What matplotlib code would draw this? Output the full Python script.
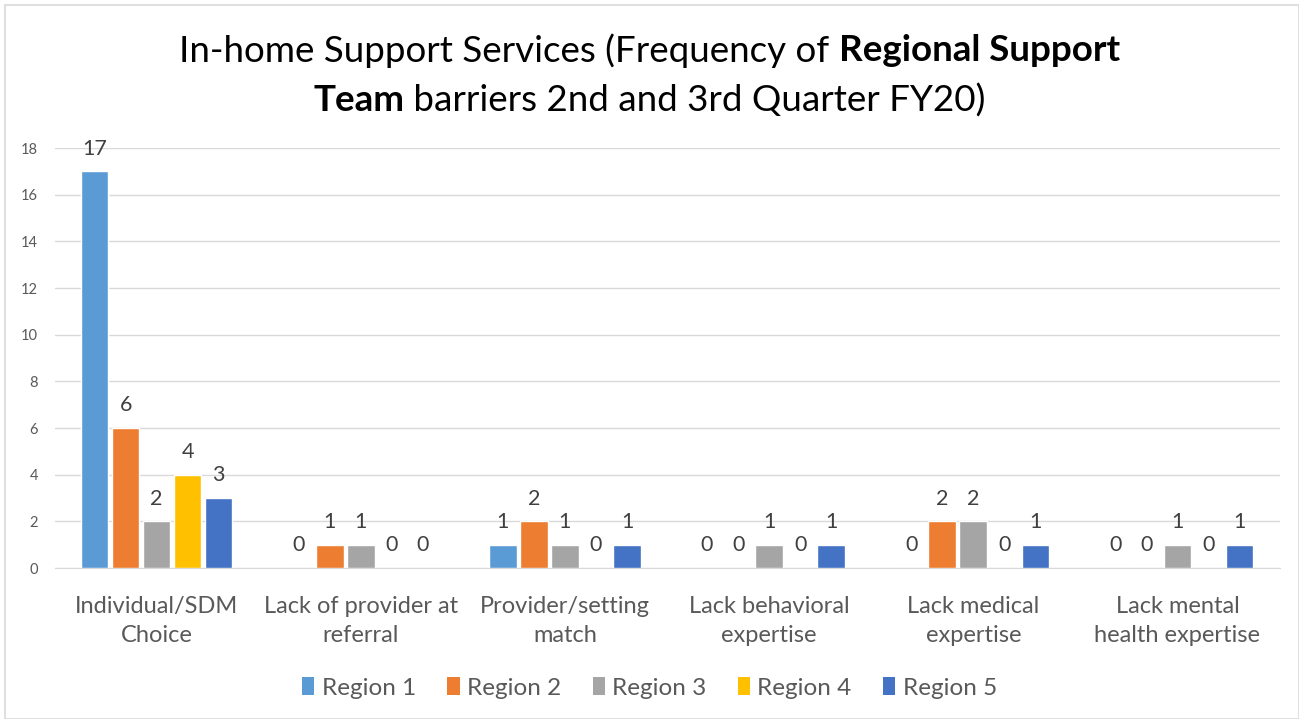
import matplotlib
matplotlib.use("Agg")
import matplotlib.pyplot as plt
import numpy as np
from matplotlib.patches import Rectangle, Patch

categories = ["Individual/SDM\nChoice", "Lack of provider at\nreferral", "Provider/setting\nmatch",
              "Lack behavioral\nexpertise", "Lack medical\nexpertise", "Lack mental\nhealth expertise"]
series_names = ["Region 1", "Region 2", "Region 3", "Region 4", "Region 5"]
region1 = [17, 0, 1, 0, 0, 0]
region2 = [6, 1, 2, 0, 2, 0]
region3 = [2, 1, 1, 1, 2, 1]
region4 = [4, 0, 0, 0, 0, 0]
region5 = [3, 0, 1, 1, 1, 1]
colors = ["#5B9BD5", "#ED7D31", "#A5A5A5", "#FFC000", "#4472C4"]
y_ticks = [0, 2, 4, 6, 8, 10, 12, 14, 16, 18]

FONT = "Lato"
plt.rcParams["font.family"] = [FONT, "DejaVu Sans"]

fig = plt.figure(figsize=(12.99, 7.19), dpi=100)
fig.patches.append(Rectangle((0.004, 0.0), 0.996, 0.993, transform=fig.transFigure,
                             fill=False, edgecolor="#D9D9D9", linewidth=1.2))
ax = fig.add_axes([0.042, 0.21, 0.943, 0.584])

data = [region1, region2, region3, region4, region5]
x = np.arange(len(categories))
pitch = 0.152
width = 0.135
for i, (vals, c, name) in enumerate(zip(data, colors, series_names)):
    pos = x + (i - 2) * pitch
    ax.bar(pos, vals, width, color=c, edgecolor="white", linewidth=1.0, label=name, zorder=3)
    for p, v in zip(pos, vals):
        ax.text(p, v + 0.55, str(v), ha="center", va="bottom", fontsize=15.5,
                color="#404040", zorder=4, clip_on=False)

ax.set_xlim(-0.5, len(categories) - 0.5)
ax.set_ylim(0, 18)
ax.set_yticks(y_ticks)
ax.set_yticklabels([str(t) for t in y_ticks], fontsize=10.5, color="#595959")
ax.set_xticks(x)
ax.set_xticklabels(categories, fontsize=17, color="#595959", linespacing=1.5)
ax.tick_params(axis="both", length=0)
ax.tick_params(axis="x", pad=20)
ax.tick_params(axis="y", pad=12)
ax.grid(axis="y", color="#D9D9D9", linewidth=1.0, zorder=0)
for s in ["top", "right", "left"]:
    ax.spines[s].set_visible(False)
ax.spines["bottom"].set_color("#D9D9D9")

handles = [Patch(facecolor=c, edgecolor="none") for c in colors]
fig.legend(handles, series_names, loc="center", bbox_to_anchor=(0.5, 0.043), ncol=5,
           frameon=False, fontsize=17.5, handlelength=0.5, handleheight=0.75,
           handletextpad=0.3, columnspacing=1.3, labelcolor="#595959")

# Title with bold fragments, centred line by line
renderer = fig.canvas.get_renderer()
title_lines = [
    (0.930, [("In-home Support Services (Frequency of ", "normal"), ("Regional Support", "bold")]),
    (0.860, [("Team", "bold"), (" barriers 2nd and 3rd Quarter FY20)", "normal")]),
]
fig_w = fig.get_figwidth() * fig.dpi
for y, parts in title_lines:
    texts = []
    total = 0.0
    for s, w in parts:
        t = fig.text(0, y, s, fontsize=26.5, fontweight=w, color="#000000", va="center", ha="left")
        bb = t.get_window_extent(renderer)
        texts.append((t, bb.width))
        total += bb.width
    xpos = (fig_w - total) / 2
    for t, wd in texts:
        t.set_x(xpos / fig_w)
        xpos += wd

fig.savefig("out.png", dpi=100)
